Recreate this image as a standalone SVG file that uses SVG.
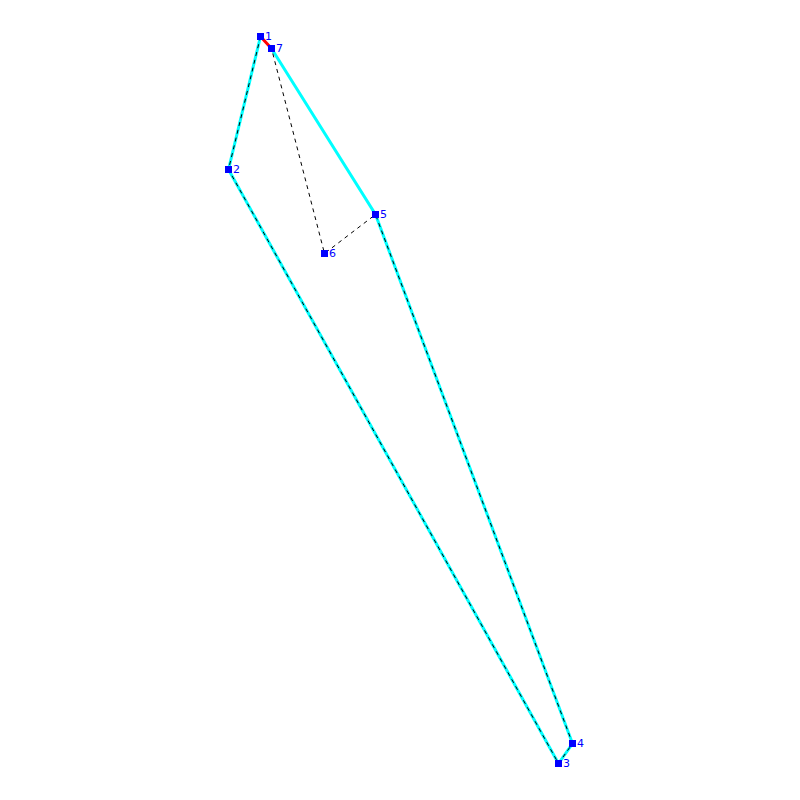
<svg xmlns="http://www.w3.org/2000/svg" width="800" height="800" viewBox="0 0 800 800">
<style>
.c{fill:none;stroke:#00ffff;stroke-width:3}
.d{fill:none;stroke:#000;stroke-width:1;stroke-dasharray:4 4}
.r{stroke:#ff0000;stroke-width:3}
.n rect{fill:#0000ff}
.n text{fill:#0000ff;font-family:"DejaVu Sans",sans-serif;font-size:11px}
</style>
<rect width="800" height="800" fill="#fff"/>
<g id="connectors">
<polyline class="c" points="271.5,48.5 375.5,214.5 572.5,743.5 558.5,763.5 228.5,169.5 260.5,36.5"/>
<line class="r" x1="260.5" y1="36.5" x2="271.5" y2="48.5"/>
<polyline class="d" points="260.5,36.5 228.5,169.5 558.5,763.5 572.5,743.5 375.5,214.5 324.5,253.5 271.5,48.5"/>
</g>
<g id="n1" class="n"><rect x="257" y="33" width="7" height="7"/><text x="265" y="40">1</text></g>
<g id="n2" class="n"><rect x="225" y="166" width="7" height="7"/><text x="233" y="173">2</text></g>
<g id="n3" class="n"><rect x="555" y="760" width="7" height="7"/><text x="563" y="767">3</text></g>
<g id="n4" class="n"><rect x="569" y="740" width="7" height="7"/><text x="577" y="747">4</text></g>
<g id="n5" class="n"><rect x="372" y="211" width="7" height="7"/><text x="380" y="218">5</text></g>
<g id="n6" class="n"><rect x="321" y="250" width="7" height="7"/><text x="329" y="257">6</text></g>
<g id="n7" class="n"><rect x="268" y="45" width="7" height="7"/><text x="276" y="52">7</text></g>
</svg>
